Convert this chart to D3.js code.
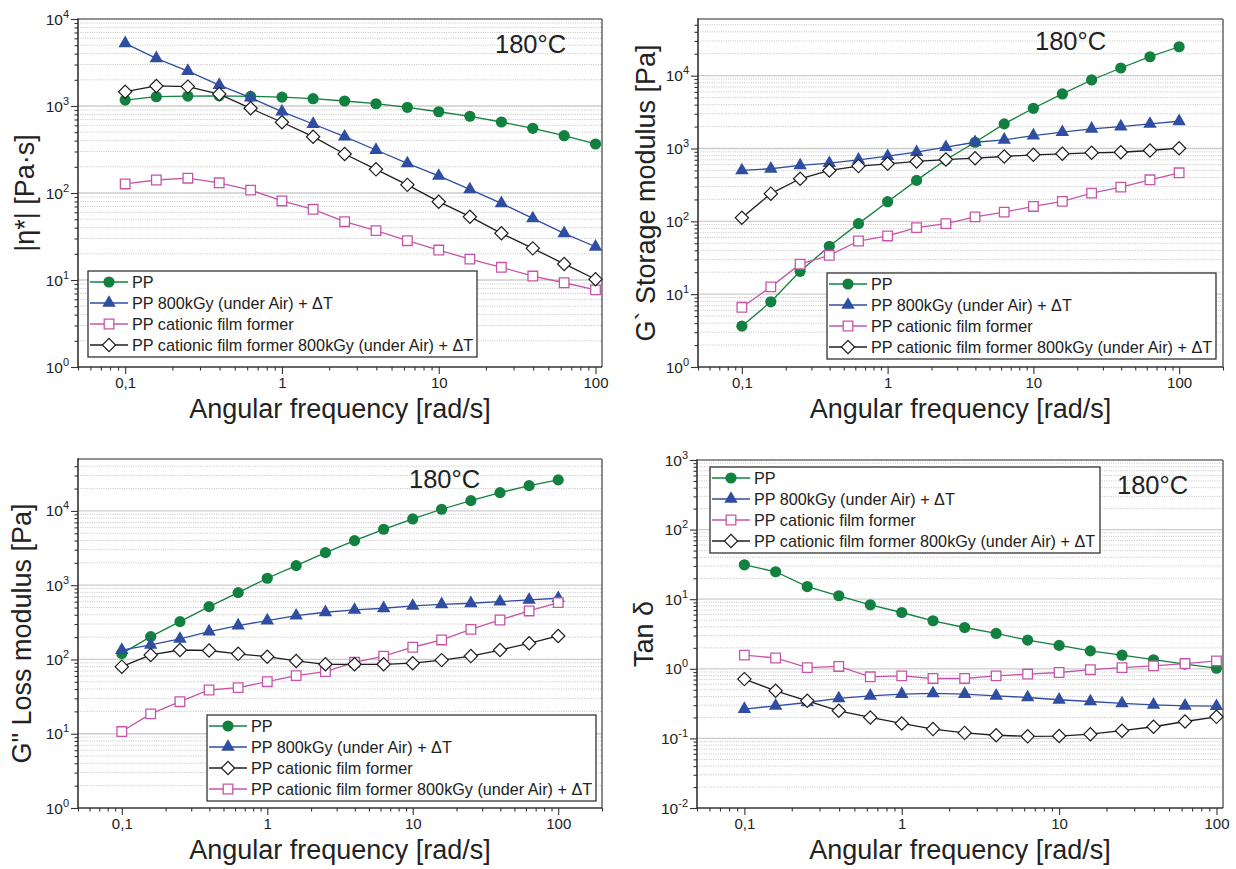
<!DOCTYPE html>
<html><head><meta charset="utf-8">
<script src="https://cdn.jsdelivr.net/npm/d3@7"></script>
<style>
body{margin:0;background:#fff}
svg{display:block}
text{font-family:"Liberation Sans",Arial,Helvetica,sans-serif;fill:#222}
</style>
</head><body>
<svg id="c" width="1236" height="869"></svg>
<script>
// ---------- data ----------
const freq = [0.1,0.158,0.251,0.398,0.631,1,1.58,2.51,3.98,6.31,10,15.8,25.1,39.8,63.1,100];
const xTickValues = [0.1,1,10,100];
const xTickLabels = ["0,1","1","10","100"];
const seriesNames = ["PP","PP 800kGy (under Air) + ΔT","PP cationic film former","PP cationic film former 800kGy (under Air) + ΔT"];
const tempLabel = "180°C";
const xTitle = "Angular frequency [rad/s]";

// |eta*| [Pa·s]
const etaPP      = [1170,1280,1300,1310,1290,1265,1213,1141,1062,966,859,762,655,554,456,366];
const etaIrr     = [5250,3530,2520,1740,1245,860,621,444,312,219,157,110,76,51,34.4,24.1];
const etaCff     = [127,141,148,131,108,81,65,46.8,36.9,28.3,22.1,17.4,14,11.1,9.3,7.7];
const etaCffIrr  = [1460,1700,1670,1370,940,650,444,281,187,124,79.5,53.4,34.4,23.1,15.3,10.2];
const etaYExp    = [0,1,2,3,4];

// G' storage modulus [Pa]
const gpPP       = [3.64,7.85,20.6,45.5,93,186,365,700,1219,2178,3566,5610,8730,12740,18200,24950];
const gpIrr      = [500,527,585,629,700,785,891,1042,1219,1315,1507,1673,1862,2001,2178,2366];
const gpCff      = [6.6,12.6,25.8,34.2,53.7,63,82,93,115,134,160,188,244,295,372,464];
const gpCffIrr   = [112,240,384,500,573,617,664,705,736,777,820,846,873,889,939,1010];
const gpYExp     = [0,1,2,3,4];

// G'' loss modulus [Pa]
const gppPP      = [120,203,323,514,794,1240,1832,2743,3985,5660,7800,10530,13750,17620,21900,26160];
const gppIrr     = [134,157,189,237,286,334,389,432,464,489,525,553,571,600,633,667];
const gppDiamond = [80,115,134,132,119,109,95.5,86,86,86,89,98,111,134,165,207];
const gppSquare  = [10.7,18.5,27,38.8,41.7,50.2,60.5,68.5,91.6,111,146,183,254,340,450,582];
const gppYExp    = [0,1,2,3,4];

// tan delta
const tanPP      = [31.2,24.8,15.2,11.2,8.3,6.44,4.9,3.92,3.22,2.58,2.17,1.81,1.57,1.35,1.17,1.02];
const tanIrr     = [0.264,0.294,0.328,0.375,0.409,0.433,0.443,0.433,0.409,0.387,0.359,0.339,0.318,0.304,0.294,0.29];
const tanCff     = [1.57,1.43,1.04,1.08,0.768,0.79,0.726,0.726,0.79,0.84,0.885,0.97,1.04,1.1,1.19,1.30];
const tanCffIrr  = [0.711,0.483,0.347,0.249,0.2,0.164,0.136,0.12,0.111,0.107,0.108,0.115,0.129,0.147,0.175,0.204];
const tanYExp    = [-2,-1,0,1,2,3];

// ---------- styles ----------
const STY = {
  circle:  {color:"#12803f", sym:"circle"},
  tri:     {color:"#2f4ea2", sym:"tri"},
  square:  {color:"#c655a9", sym:"square"},
  diamond: {color:"#1e1e1e", sym:"diamond"}
};

const panels = [
  {x0:78,x1:602,y0:19,y1:367,xd:[0.05,110],yd:[1,1e4],yExp:etaYExp,title:"|η*| [Pa·s]",titleX:34,
   series:[[etaPP,"circle"],[etaIrr,"tri"],[etaCff,"square"],[etaCffIrr,"diamond"]],
   legend:{x:88,y:271,w:389,h:86,sty:["circle","tri","square","diamond"]},temp:[495,53]},
  {x0:698,x1:1223,y0:19,y1:367,xd:[0.05,200],yd:[1,6e4],yExp:gpYExp,title:"G` Storage modulus [Pa]",titleX:655,
   series:[[gpPP,"circle"],[gpIrr,"tri"],[gpCff,"square"],[gpCffIrr,"diamond"]],
   legend:{x:827,y:273,w:389,h:86,sty:["circle","tri","square","diamond"]},temp:[1035,50]},
  {x0:78,x1:602,y0:459,y1:808,xd:[0.05,200],yd:[1,5e4],yExp:gppYExp,title:"G\" Loss modulus [Pa]",titleX:31,
   series:[[gppPP,"circle"],[gppIrr,"tri"],[gppSquare,"square"],[gppDiamond,"diamond"]],
   legend:{x:207,y:715,w:389,h:86,sty:["circle","tri","diamond","square"]},temp:[409,488]},
  {x0:697,x1:1223,y0:460,y1:808,xd:[0.05,110],yd:[0.01,1000],yExp:tanYExp,title:"Tan δ",titleX:653,
   series:[[tanPP,"circle"],[tanIrr,"tri"],[tanCff,"square"],[tanCffIrr,"diamond"]],
   legend:{x:710,y:467,w:390,h:86,sty:["circle","tri","square","diamond"]},temp:[1117,494]}
];

const svg = d3.select("#c");

function drawMarker(g, cx, cy, key){
  const s = STY[key];
  if (s.sym==="circle"){
    g.append("circle").attr("cx",cx).attr("cy",cy).attr("r",5.6).attr("fill",s.color);
  } else if (s.sym==="tri"){
    g.append("path").attr("transform",`translate(${cx},${cy})`)
      .attr("d",d3.symbol(d3.symbolTriangle,78)()).attr("fill",s.color);
  } else if (s.sym==="square"){
    g.append("path").attr("transform",`translate(${cx},${cy})`)
      .attr("d",d3.symbol(d3.symbolSquare,92)()).attr("fill","#fff").attr("stroke",s.color).attr("stroke-width",1.3);
  } else {
    g.append("path").attr("transform",`translate(${cx},${cy}) rotate(45)`)
      .attr("d",d3.symbol(d3.symbolSquare,88)()).attr("fill","#fff").attr("stroke",s.color).attr("stroke-width",1.2);
  }
}

panels.forEach(p=>{
  const g = svg.append("g");
  const x = d3.scaleLog().domain(p.xd).range([p.x0,p.x1]);
  const y = d3.scaleLog().domain(p.yd).range([p.y1,p.y0]);
  const lo = Math.floor(Math.log10(p.yd[0])), hi = Math.ceil(Math.log10(p.yd[1]));
  const minorY=[], majorY=[];
  for(let e=lo;e<=hi;e++){
    const m = Math.pow(10,e);
    if (m>p.yd[0]*1.0001 && m<p.yd[1]*0.9999) majorY.push(m);
    for(let k=2;k<=9;k++){const v=k*m; if(v>p.yd[0] && v<p.yd[1]*0.9999) minorY.push(v);}
  }
  // grid
  g.selectAll(".mg").data(minorY).enter().append("line")
    .attr("x1",p.x0).attr("x2",p.x1).attr("y1",d=>y(d)).attr("y2",d=>y(d))
    .attr("stroke","#bdbdbd").attr("stroke-width",0.9).attr("stroke-dasharray","1,1.3");
  g.selectAll(".Mg").data(majorY).enter().append("line")
    .attr("x1",p.x0).attr("x2",p.x1).attr("y1",d=>y(d)).attr("y2",d=>y(d))
    .attr("stroke","#cccccc").attr("stroke-width",1.3);

  // x minor ticks
  const xlo=Math.floor(Math.log10(p.xd[0])), xhi=Math.ceil(Math.log10(p.xd[1]));
  const xMinor=[];
  for(let e=xlo;e<=xhi;e++){for(let k=2;k<=9;k++){const v=k*Math.pow(10,e); if(v>=p.xd[0]*0.999&&v<=p.xd[1]*1.001) xMinor.push(v);}}
  const ax = g.append("g").attr("transform",`translate(0,${p.y1})`);
  ax.call(d3.axisBottom(x).tickValues(xMinor).tickSize(3.5).tickFormat(""));
  ax.select(".domain").remove();
  const ax2 = g.append("g").attr("transform",`translate(0,${p.y1})`);
  ax2.call(d3.axisBottom(x).tickValues(xTickValues).tickSize(7).tickFormat((d,i)=>xTickLabels[i]));
  ax2.select(".domain").remove();
  ax2.selectAll("text").attr("font-size",15).attr("fill","#222").attr("dy","0.75em").attr("y",10)
    .style("font-family","'Liberation Sans',Arial,sans-serif");

  const ay = g.append("g").attr("transform",`translate(${p.x0},0)`);
  ay.call(d3.axisLeft(y).tickValues(minorY).tickSize(3.5).tickFormat(""));
  ay.select(".domain").remove();
  const yMaj = p.yExp.map(e=>Math.pow(10,e));
  const ay2 = g.append("g").attr("transform",`translate(${p.x0},0)`);
  ay2.call(d3.axisLeft(y).tickValues(yMaj).tickSize(7).tickFormat(""));
  ay2.select(".domain").remove();
  g.selectAll(".tick line").attr("stroke","#333").attr("stroke-width",1.1);
  // y labels with superscripts
  p.yExp.forEach(e=>{
    const t = g.append("text").attr("x",p.x0-9).attr("y",y(Math.pow(10,e))+5.5)
      .attr("text-anchor","end").attr("font-size",15.5);
    t.append("tspan").text("10");
    t.append("tspan").attr("dy",-7).attr("font-size",11).text(String(e));
  });

  // frame
  g.append("line").attr("x1",p.x0).attr("x2",p.x1).attr("y1",p.y0).attr("y2",p.y0).attr("stroke","#6e6e6e").attr("stroke-width",1.6);
  g.append("line").attr("x1",p.x1).attr("x2",p.x1).attr("y1",p.y0).attr("y2",p.y1).attr("stroke","#6e6e6e").attr("stroke-width",1.6);
  g.append("line").attr("x1",p.x0).attr("x2",p.x0).attr("y1",p.y0-0.8).attr("y2",p.y1+0.8).attr("stroke","#333").attr("stroke-width",1.6);
  g.append("line").attr("x1",p.x0).attr("x2",p.x1).attr("y1",p.y1).attr("y2",p.y1).attr("stroke","#333").attr("stroke-width",1.6);

  // series
  const line = d3.line().x((d,i)=>x(freq[i])).y(d=>y(d));
  p.series.forEach(([vals,key])=>{
    const sg = g.append("g");
    sg.append("path").attr("d",line(vals)).attr("fill","none").attr("stroke",STY[key].color).attr("stroke-width",1.3);
    vals.forEach((v,i)=>drawMarker(sg,x(freq[i]),y(v),key));
  });

  // legend
  const L = p.legend;
  const lg = g.append("g");
  lg.append("rect").attr("x",L.x).attr("y",L.y).attr("width",L.w).attr("height",L.h)
    .attr("fill","#fff").attr("stroke","#333").attr("stroke-width",1.3);
  seriesNames.forEach((name,i)=>{
    const ry = L.y+11+21*i;
    const key = L.sty[i];
    lg.append("line").attr("x1",L.x+2).attr("x2",L.x+40).attr("y1",ry).attr("y2",ry)
      .attr("stroke",STY[key].color).attr("stroke-width",1.3);
    drawMarker(lg,L.x+21,ry,key);
    lg.append("text").attr("x",L.x+44).attr("y",ry+6).attr("font-size",16.2).text(name);
  });

  // temperature
  g.append("text").attr("x",p.temp[0]).attr("y",p.temp[1]).attr("font-size",25.5).text(tempLabel);

  // titles
  g.append("text").attr("x",(p.x0+p.x1)/2).attr("y",p.y1+51).attr("text-anchor","middle")
    .attr("font-size",27).text(xTitle);
  g.append("text").attr("transform",`translate(${p.titleX},${(p.y0+p.y1)/2}) rotate(-90)`)
    .attr("text-anchor","middle").attr("font-size",27).text(p.title);
});
</script>
</body></html>
